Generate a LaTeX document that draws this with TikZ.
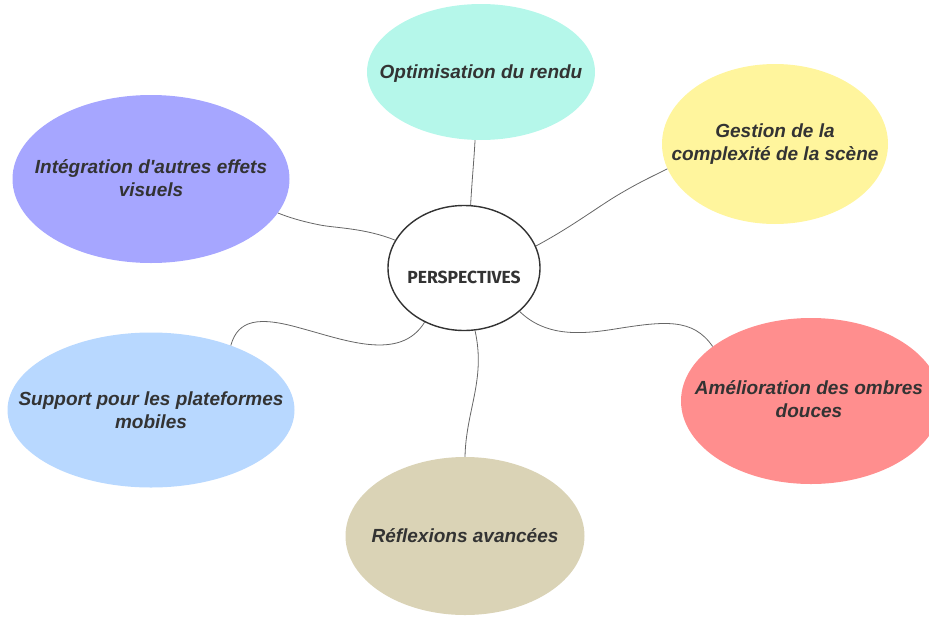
\documentclass[tikz,border=0pt]{standalone}
\usepackage{fontspec}
\setmainfont{Liberation Sans}[Ligatures=TeXOff]
\newfontfamily\hubfont{Fira Sans}[Ligatures=TeXOff]
\usetikzlibrary{shapes.geometric}

\definecolor{mint}{HTML}{B5F7EA}
\definecolor{lemon}{HTML}{FFF59D}
\definecolor{lavender}{HTML}{A6A6FF}
\definecolor{sky}{HTML}{B8D8FF}
\definecolor{salmon}{HTML}{FF8E8E}
\definecolor{sand}{HTML}{DAD3B6}
\definecolor{ink}{HTML}{333333}
\definecolor{wire}{HTML}{666666}

\tikzset{
  bubble/.style 2 args={ellipse, draw=none, fill=#1, inner sep=0pt,
    minimum width=#2},
  topic/.style={font=\fontsize{19}{22.5}\selectfont\bfseries\itshape,
    text=ink, align=center, inner sep=0pt},
  hub/.style={ellipse, draw=ink, line width=1.4pt, fill=white,
    minimum width=152pt, minimum height=125pt, inner sep=0pt},
  hubtext/.style={font=\hubfont\bfseries\fontsize{17.5}{19}\selectfont,
    text=ink, inner sep=0pt},
  link/.style={draw=wire, line width=0.8pt}
}

\begin{document}
\begin{tikzpicture}[x=1pt, y=1pt]
  \useasboundingbox (0,0) rectangle (929,-616);

  % central idea
  \node[hub, label={[hubtext, yshift=-9pt]center:PERSPECTIVES}] (hub) at (464,-268) {};

  % surrounding topics
  \node[bubble={mint}{228pt}, minimum height=136pt,
        label={[topic, yshift=-1.5pt]center:Optimisation du rendu}] (opt) at (481,-72) {};
  \node[bubble={lemon}{226pt}, minimum height=160pt,
        label={[topic]center:Gestion de la\\complexité de la scène}] (gest) at (775,-144) {};
  \node[bubble={lavender}{277pt}, minimum height=168pt,
        label={[topic, yshift=1pt]center:Intégration d'autres effets\\visuels}] (integ) at (151,-179) {};
  \node[bubble={sky}{287pt}, minimum height=155pt,
        label={[topic]center:Support pour les plateformes\\mobiles}] (mob) at (151,-410) {};
  \node[bubble={salmon}{260pt}, minimum height=166pt,
        label={[topic, xshift=-2pt, yshift=2pt]center:Amélioration des ombres\\douces}] (ombr) at (811,-401) {};
  \node[bubble={sand}{239pt}, minimum height=158pt,
        label={[topic]center:Réflexions avancées}] (refl) at (465,-536) {};

  % connectors from the hub
  \draw[link] (hub.84) .. controls (472,-180) and (474,-160) .. (opt.265);
  \draw[link] (hub.17) .. controls (575,-225) and (600,-205) .. (623,-192)
              .. controls (640,-182) and (655,-175) .. (gest.193);
  \draw[link] (hub.158) .. controls (365,-228) and (335,-228) .. (320,-225)
              .. controls (300,-221) and (288,-217) .. (integ.345);
  \draw[link] (hub.234) .. controls (400,-362) and (345,-340) .. (300,-328)
              .. controls (258,-316) and (238,-320) .. (mob.39);
  \draw[link] (hub.322) .. controls (545,-336) and (578,-335) .. (615,-329)
              .. controls (665,-321) and (693,-318) .. (ombr.151);
  \draw[link] (hub.280) .. controls (486,-380) and (466,-410) .. (refl.90);
\end{tikzpicture}
\end{document}
